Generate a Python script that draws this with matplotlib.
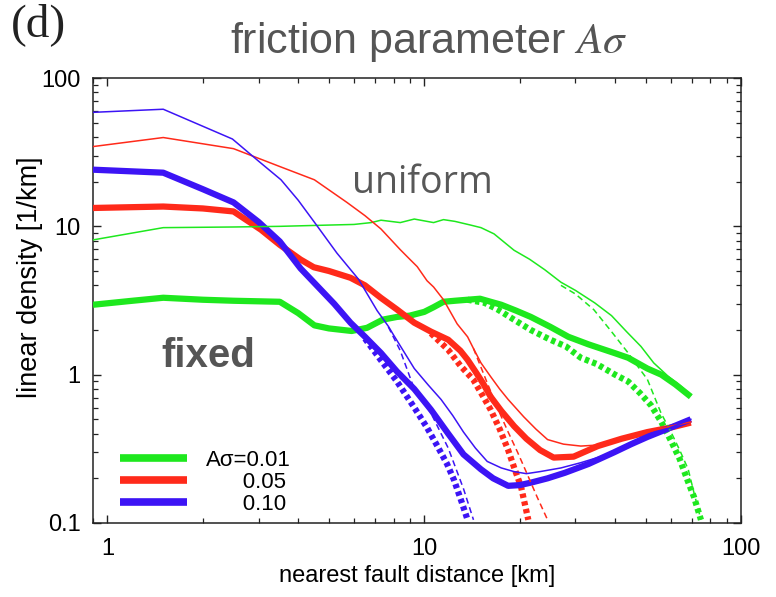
import numpy as np
import matplotlib.pyplot as plt
from matplotlib.lines import Line2D

# -----------------------------
# Data (log-log)
# -----------------------------
# A_sigma = 0.01 (green)
g_fix_x = [0.9, 1.2, 1.5, 2.0, 2.5, 3.5, 4.0, 4.5, 5.0, 5.9, 6.6, 7.4, 8.2, 9.0, 10.0,
           10.7, 11.5, 12.5, 13.7, 15.0, 16.2, 17.5, 19.5, 21.7, 25.0, 28.5, 33.0,
           39.8, 44.0, 50.6, 56.0, 62.0, 69.4]
g_fix_y = [2.96, 3.15, 3.3, 3.2, 3.15, 3.1, 2.6, 2.15, 2.05, 1.97, 2.07, 2.35, 2.45, 2.5,
           2.65, 2.85, 3.1, 3.15, 3.2, 3.25, 3.1, 2.96, 2.7, 2.45, 2.1, 1.8, 1.6, 1.4,
           1.3, 1.1, 1.0, 0.86, 0.71]
g_fixdot_x = [13.7, 15.5, 17.1, 19.5, 21.7, 25.0, 28.0, 31.2, 35.0, 40.0, 44.0, 48.0,
              52.0, 56.0, 60.0, 64.0, 68.0, 71.0, 74.7]
g_fixdot_y = [3.2, 3.05, 2.74, 2.3, 2.0, 1.72, 1.55, 1.3, 1.18, 1.0, 0.9, 0.75, 0.62,
              0.48, 0.36, 0.27, 0.19, 0.15, 0.105]
g_uni_x = [0.9, 1.5, 2.5, 3.5, 5.0, 6.0, 6.8, 7.3, 8.4, 9.3, 10.7, 11.5, 12.5, 14.0,
           15.1, 16.6, 19.2, 21.5, 24.0, 27.0, 30.0, 34.5, 39.0, 43.5, 48.3, 53.0,
           58.7, 64.0, 69.4]
g_uni_y = [8.1, 9.8, 9.9, 10.0, 10.2, 10.3, 10.6, 11.0, 10.6, 11.2, 10.6, 11.1, 10.8,
           10.2, 9.8, 8.9, 6.9, 6.0, 5.1, 4.2, 3.7, 3.05, 2.5, 1.95, 1.55, 1.2, 0.98,
           0.85, 0.73]
g_unidash_x = [27.0, 30.0, 34.3, 39.0, 43.9, 47.0, 50.6, 55.9, 60.1, 64.0, 68.1, 71.0, 74.7]
g_unidash_y = [4.0, 3.5, 2.74, 1.95, 1.41, 1.15, 0.93, 0.55, 0.41, 0.31, 0.23, 0.16, 0.105]

# A_sigma = 0.05 (red)
r_fix_x = [0.9, 1.5, 2.0, 2.5, 3.05, 3.5, 4.07, 4.48, 5.0, 5.85, 6.5, 7.29, 8.2, 9.3,
           10.5, 11.9, 13.0, 13.7, 14.5, 15.3, 16.2, 17.5, 19.2, 21.0, 23.2, 25.6,
           29.6, 35.3, 42.0, 50.6, 60.0, 69.4]
r_fix_y = [13.3, 13.6, 13.2, 12.6, 9.5, 7.5, 5.97, 5.3, 5.0, 4.5, 4.0, 3.3, 2.75, 2.24,
           1.95, 1.72, 1.45, 1.26, 1.05, 0.88, 0.71, 0.57, 0.45, 0.37, 0.31, 0.276,
           0.28, 0.33, 0.37, 0.41, 0.44, 0.475]
r_fixdot_x = [10.5, 11.9, 13.0, 14.3, 15.3, 16.2, 17.3, 18.4, 19.3, 20.2, 21.3]
r_fixdot_y = [1.9, 1.47, 1.15, 0.92, 0.72, 0.58, 0.43, 0.31, 0.23, 0.176, 0.105]
r_uni_x = [0.9, 1.5, 2.5, 3.5, 4.5, 5.7, 6.5, 7.3, 8.4, 9.0, 9.5, 10.2, 10.7, 11.5,
           12.7, 13.7, 14.3, 15.1, 16.2, 17.3, 18.4, 20.6, 22.5, 24.5, 27.5, 31.2,
           35.0, 39.8, 45.0, 50.6, 60.0, 69.4]
r_uni_y = [34.5, 39.7, 33.4, 25.3, 20.6, 14.5, 11.8, 9.6, 6.96, 6.0, 5.35, 4.3, 3.9,
           3.2, 2.2, 1.8, 1.5, 1.2, 0.97, 0.8, 0.68, 0.52, 0.43, 0.365, 0.34, 0.33,
           0.335, 0.35, 0.38, 0.41, 0.45, 0.48]
r_unidash_x = [14.3, 15.8, 17.0, 18.4, 19.7, 21.0, 22.7, 24.5]
r_unidash_y = [1.5, 0.88, 0.6, 0.41, 0.3, 0.22, 0.15, 0.105]

# A_sigma = 0.10 (blue)
b_fix_x = [0.9, 1.5, 2.0, 2.5, 3.0, 3.5, 4.07, 4.6, 5.2, 5.85, 6.5, 7.3, 8.2, 9.3,
           10.5, 11.9, 13.3, 15.1, 16.5, 18.4, 20.0, 21.7, 24.5, 27.8, 33.0, 39.8,
           45.0, 50.6, 60.0, 69.4]
b_fix_y = [24.1, 23.0, 17.8, 14.5, 10.7, 7.9, 5.2, 3.95, 3.0, 2.24, 1.8, 1.4, 1.05,
           0.8, 0.58, 0.4, 0.29, 0.23, 0.2, 0.178, 0.18, 0.187, 0.2, 0.218, 0.25, 0.3,
           0.34, 0.38, 0.44, 0.5]
b_fixdot_x = [6.5, 7.3, 8.2, 9.3, 10.2, 11.0, 11.8, 12.4, 13.1, 13.7]
b_fixdot_y = [1.75, 1.25, 0.9, 0.6, 0.44, 0.33, 0.25, 0.196, 0.14, 0.105]
b_uni_x = [0.9, 1.5, 2.48, 3.0, 3.53, 4.0, 4.6, 5.3, 6.2, 7.1, 7.7, 8.0, 9.3, 10.3,
           11.3, 12.3, 13.3, 14.5, 15.8, 17.5, 19.2, 21.0, 23.2, 27.0, 31.2, 36.0,
           40.0, 50.6, 60.0, 69.4]
b_uni_y = [58.7, 61.6, 38.8, 27.5, 20.6, 15.0, 10.0, 6.6, 4.4, 2.7, 2.12, 1.85, 1.1,
           0.85, 0.68, 0.53, 0.41, 0.32, 0.26, 0.235, 0.222, 0.215, 0.222, 0.235,
           0.255, 0.28, 0.3, 0.38, 0.44, 0.5]
b_unidash_x = [7.7, 8.4, 9.3, 10.5, 11.9, 13.3, 14.3]
b_unidash_y = [2.1, 1.45, 0.8, 0.55, 0.32, 0.17, 0.105]

labels = ['A\u03c3=0.01', '0.05', '0.10']
colors = ['#1ee81e', '#ff2a1a', '#3c14f5']

# -----------------------------
# Figure
# -----------------------------
plt.rcParams['font.family'] = ['Liberation Sans', 'DejaVu Sans']
plt.rcParams['mathtext.fontset'] = 'stix'

fig = plt.figure(figsize=(7.76, 5.97), dpi=100)
ax = fig.add_axes([0.1198, 0.124, 0.8352, 0.7453])

series = [
    (g_fix_x, g_fix_y, g_fixdot_x, g_fixdot_y, g_uni_x, g_uni_y, g_unidash_x, g_unidash_y),
    (r_fix_x, r_fix_y, r_fixdot_x, r_fixdot_y, r_uni_x, r_uni_y, r_unidash_x, r_unidash_y),
    (b_fix_x, b_fix_y, b_fixdot_x, b_fixdot_y, b_uni_x, b_uni_y, b_unidash_x, b_unidash_y),
]

for (fx, fy, dx, dy, ux, uy, ex, ey), c in zip(series, colors):
    # thick: fixed (solid = full, dotted = truncated)
    ax.plot(dx, dy, color=c, lw=4.5, ls=(0, (0.7, 0.55)), dash_capstyle='butt', zorder=2)
    ax.plot(fx, fy, color=c, lw=4.5, solid_capstyle='butt', zorder=3)
    # thin: uniform
    ax.plot(ux, uy, color=c, lw=1.1, zorder=4)
    ax.plot(ex, ey, color=c, lw=1.1, ls=(0, (4, 2.5)), zorder=4)

ax.set_xscale('log')
ax.set_yscale('log')
ax.set_xlim(0.9, 100)
ax.set_ylim(0.1, 100)
ax.set_xticks([1, 10, 100])
ax.set_xticklabels(['1', '10', '100'])
ax.set_yticks([0.1, 1, 10, 100])
ax.set_yticklabels(['0.1', '1', '10', '100'])

ax.tick_params(which='both', direction='in', top=True, right=True, color='#222222')
ax.tick_params(which='major', length=6, width=1.0, labelsize=17)
ax.tick_params(axis='x', which='major', pad=11)
ax.tick_params(axis='y', which='major', pad=9)
ax.tick_params(which='minor', length=3.5, width=0.9)
for s in ax.spines.values():
    s.set_linewidth(1.1)
    s.set_color('#222222')

ax.set_xlabel('nearest fault distance [km]', fontsize=17)
ax.set_ylabel('linear density [1/km]', fontsize=19.5)
ax.xaxis.set_label_coords(0.5, -0.095)
ax.yaxis.set_label_coords(-0.077, 0.553)

# legend (thick lines only)
handles = [Line2D([], [], color=c, lw=5.5, solid_capstyle='butt') for c in colors]
leg_labels = [labels[0], '      ' + labels[1], '      ' + labels[2]]
ax.legend(handles, leg_labels, loc='lower left', bbox_to_anchor=(0.042, 0.018),
          frameon=False, fontsize=16, handlelength=3.0, handletextpad=0.85,
          labelspacing=0.05, borderpad=0, borderaxespad=0)

# annotations
ax.text(0.4, 0.765, 'uniform', transform=ax.transAxes, fontsize=27,
        family=['Open Sans', 'DejaVu Sans'], color='#585858', ha='left', va='center')
ax.text(0.106, 0.375, 'fixed', transform=ax.transAxes, fontsize=29,
        fontweight='bold', color='#555555', ha='left', va='center')

fig.text(0.553, 0.93, r'friction parameter $A\sigma$', fontsize=31, color='#555555',
         ha='center', va='center')
fig.text(0.014, 0.958, '(d)', fontsize=34, family=['Liberation Serif', 'DejaVu Serif'],
         color='#222222', ha='left', va='center')

fig.savefig('out.png', dpi=100)
plt.close(fig)
